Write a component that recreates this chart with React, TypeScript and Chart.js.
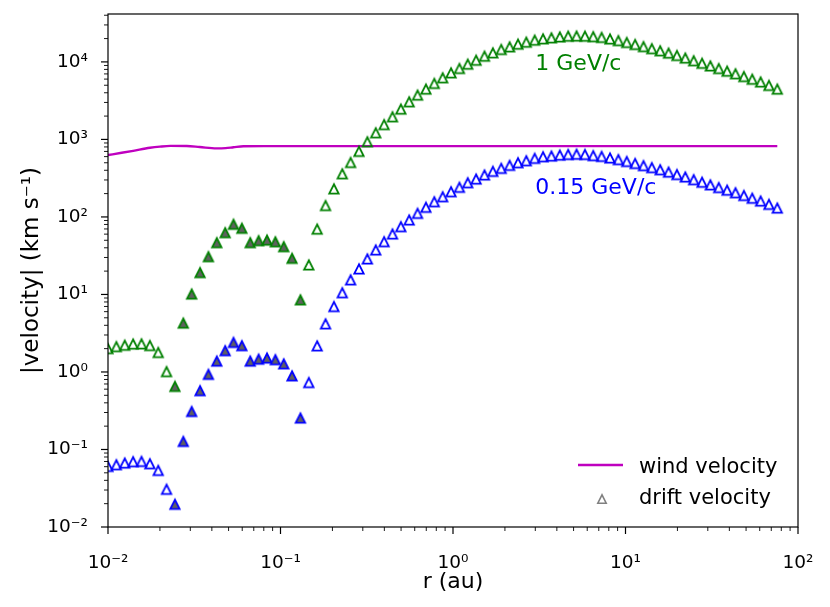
import React, { useEffect, useRef } from 'react';
import { Chart, registerables } from 'chart.js';

Chart.register(...registerables);

// ---------- data ----------
// radial grid (au)
const radius = [
  0.01, 0.01118, 0.012503, 0.013978, 0.015631, 0.017478, 0.019543, 0.021852, 0.024434, 0.027321,
  0.030549, 0.034158, 0.038194, 0.042707, 0.047753, 0.053395, 0.059704, 0.066758, 0.074645, 0.083465,
  0.093325, 0.10435, 0.11668, 0.13047, 0.14588, 0.16312, 0.18239, 0.20393, 0.22803, 0.25497,
  0.2851, 0.31878, 0.35645, 0.39856, 0.44566, 0.49831, 0.55719, 0.62303, 0.69663, 0.77893,
  0.87096, 0.97387, 1.0889, 1.2176, 1.3614, 1.5223, 1.7022, 1.9033, 2.1281, 2.3796,
  2.6607, 2.9751, 3.3266, 3.7196, 4.1591, 4.6504, 5.2, 5.8143, 6.5013, 7.2694,
  8.1283, 9.0886, 10.162, 11.363, 12.706, 14.207, 15.885, 17.762, 19.861, 22.207,
  24.831, 27.765, 31.046, 34.713, 38.815, 43.401, 48.529, 54.262, 60.674, 67.843,
  75.858,
];

// drift velocity (km/s), negative = inward (filled markers)
const drift1GeV = [
  2.0, 2.12, 2.21, 2.29, 2.3, 2.19, 1.78, 1.01, -0.65, -4.26,
  -10.1, -19.1, -30.7, -46.5, -62.6, -80.3, -71.3, -46.5, -49.3, -50.2,
  -47.7, -41.3, -29.2, -8.5, 24.0, 69.5, 140, 230, 360, 503,
  700, 931, 1216, 1550, 1955, 2456, 3052, 3724, 4449, 5270,
  6225, 7216, 8220, 9340, 10500, 11840, 13060, 14450, 15610, 16900,
  17940, 19040, 19790, 20390, 20990, 21430, 21530, 21430, 21130, 20650,
  19720, 18790, 17780, 16750, 15740, 14790, 13900, 12970, 12080, 11190,
  10350, 9590, 8870, 8200, 7590, 7020, 6470, 5970, 5500, 4970,
  4450,
];

const drift015GeV = [
  0.0604, 0.0635, 0.0668, 0.0695, 0.07, 0.0654, 0.0536, 0.0306, -0.0196, -0.127,
  -0.309, -0.573, -0.93, -1.38, -1.88, -2.4, -2.18, -1.38, -1.46, -1.51,
  -1.44, -1.27, -0.89, -0.254, 0.73, 2.17, 4.17, 6.97, 10.5, 15.4,
  21.3, 28.7, 37.4, 47.9, 60.2, 74.8, 91.2, 111, 133, 157,
  182, 211, 241, 276, 308, 347, 387, 423, 462, 500,
  530, 569, 597, 610, 627, 638, 643, 638, 617, 603,
  575, 548, 519, 489, 459, 432, 406, 378, 352, 327,
  302, 280, 259, 239, 221, 205, 189, 174, 160, 145,
  130,
];

// wind velocity (km/s)
const windR = [0.01, 0.012, 0.014, 0.0175, 0.02, 0.023, 0.0286, 0.034, 0.0426, 0.048, 0.0533, 0.061, 0.08, 0.2, 1, 10, 75.858];
const windV = [628, 672, 713, 780, 808, 826, 822, 798, 766, 772, 792, 818, 820, 820, 820, 820, 820];

const xTickPowers = [-2, -1, 0, 1, 2];
const yTickPowers = [-2, -1, 0, 1, 2, 3, 4];
const xRange = [0.01, 100];
const yRange = [0.01, 41500];

const labels1GeV = { text: '1 GeV/c', r: 3, v: 1e4 };
const labels015GeV = { text: '0.15 GeV/c', r: 3, v: 250 };
const legendLabels = ['wind velocity', 'drift velocity'];

// ---------- styles ----------
const FONT = '"DejaVu Sans", "Liberation Sans", sans-serif';
const GREEN = '#008000';
const BLUE = '#0000ff';
const MAGENTA = '#bf00bf';
const FILL_GRAY = '#606060';

const SUP: Record<string, string> = {
  '-': '\u207B', '0': '\u2070', '1': '\u00B9', '2': '\u00B2', '3': '\u00B3',
  '4': '\u2074', '5': '\u2075', '6': '\u2076', '7': '\u2077', '8': '\u2078', '9': '\u2079',
};
const pow10Label = (p: number) => '10' + String(p).split('').map((c) => SUP[c]).join('');

const tickCallback = (powers: number[]) => (value: any) => {
  const l = Math.log10(Number(value));
  const p = Math.round(l);
  return Math.abs(l - p) < 1e-6 && powers.includes(p) ? pow10Label(p) : '';
};

function makeTri(stroke: string, fill: string | null, half = 4.7, lw = 1.8) {
  const c = document.createElement('canvas');
  c.width = 18;
  c.height = 18;
  const g = c.getContext('2d')!;
  g.beginPath();
  g.moveTo(9, 9 - half);
  g.lineTo(9 - half, 9 + half);
  g.lineTo(9 + half, 9 + half);
  g.closePath();
  if (fill) {
    g.fillStyle = fill;
    g.fill();
  }
  g.lineJoin = 'miter';
  g.lineWidth = lw;
  g.strokeStyle = stroke;
  g.stroke();
  return c;
}

export default function App() {
  const ref = useRef<HTMLCanvasElement | null>(null);

  useEffect(() => {
    document.body.style.margin = '0';
    const canvas = ref.current!;
    const gOpen = makeTri(GREEN, null);
    const gFill = makeTri(GREEN, FILL_GRAY);
    const bOpen = makeTri(BLUE, null);
    const bFill = makeTri(BLUE, FILL_GRAY);
    const grayTri = makeTri('#808080', null, 4.2, 1.6);

    const decor = {
      id: 'decor',
      afterDatasetsDraw(chart: any) {
        const { ctx, chartArea: ca, scales } = chart;
        const xs = scales.x;
        const ys = scales.y;
        ctx.save();
        ctx.strokeStyle = '#000';
        // x ticks
        for (let n = -2; n <= 2; n++) {
          for (let k = 1; k <= 9; k++) {
            const v = k * Math.pow(10, n);
            if (v > xRange[1] * 1.0001) break;
            const px = xs.getPixelForValue(v);
            const major = k === 1;
            ctx.lineWidth = major ? 1.2 : 0.9;
            ctx.beginPath();
            ctx.moveTo(px, ca.bottom);
            ctx.lineTo(px, ca.bottom + (major ? 7 : 4));
            ctx.stroke();
          }
        }
        // y ticks
        for (let n = -2; n <= 4; n++) {
          for (let k = 1; k <= 9; k++) {
            const v = k * Math.pow(10, n);
            if (v > yRange[1]) break;
            const py = ys.getPixelForValue(v);
            const major = k === 1;
            ctx.lineWidth = major ? 1.2 : 0.9;
            ctx.beginPath();
            ctx.moveTo(ca.left, py);
            ctx.lineTo(ca.left - (major ? 7 : 4), py);
            ctx.stroke();
          }
        }
        ctx.lineWidth = 1.2;
        ctx.strokeRect(ca.left, ca.top, ca.right - ca.left, ca.bottom - ca.top);
        ctx.restore();
      },
      afterDraw(chart: any) {
        const { ctx, chartArea: ca, scales } = chart;
        const xs = scales.x;
        const ys = scales.y;
        ctx.save();
        ctx.font = `22px ${FONT}`;
        ctx.textAlign = 'left';
        ctx.textBaseline = 'alphabetic';
        ctx.fillStyle = GREEN;
        ctx.fillText(labels1GeV.text, xs.getPixelForValue(labels1GeV.r), ys.getPixelForValue(labels1GeV.v) + 8);
        ctx.fillStyle = BLUE;
        ctx.fillText(labels015GeV.text, xs.getPixelForValue(labels015GeV.r), ys.getPixelForValue(labels015GeV.v) + 8);

        // legend
        ctx.font = `21px ${FONT}`;
        ctx.fillStyle = '#000';
        ctx.strokeStyle = MAGENTA;
        ctx.lineWidth = 2.4;
        ctx.beginPath();
        ctx.moveTo(ca.right - 220, ca.bottom - 62);
        ctx.lineTo(ca.right - 175, ca.bottom - 62);
        ctx.stroke();
        ctx.fillText(legendLabels[0], ca.right - 159, ca.bottom - 54);
        ctx.drawImage(grayTri, ca.right - 196 - 9, ca.bottom - 28 - 9);
        ctx.fillText(legendLabels[1], ca.right - 159, ca.bottom - 23);
        ctx.restore();
      },
    };

    const chart = new Chart(canvas, {
      type: 'scatter',
      data: {
        datasets: [
          {
            label: '1 GeV/c',
            data: radius.map((r, i) => ({ x: r, y: Math.abs(drift1GeV[i]) })),
            pointStyle: (c: any) => (drift1GeV[c.dataIndex] < 0 ? gFill : gOpen),
            pointRadius: 6,
            clip: 0,
          } as any,
          {
            label: '0.15 GeV/c',
            data: radius.map((r, i) => ({ x: r, y: Math.abs(drift015GeV[i]) })),
            pointStyle: (c: any) => (drift015GeV[c.dataIndex] < 0 ? bFill : bOpen),
            pointRadius: 6,
            clip: 0,
          } as any,
          {
            label: 'wind velocity',
            data: windR.map((r, i) => ({ x: r, y: windV[i] })),
            showLine: true,
            borderColor: MAGENTA,
            borderWidth: 2.4,
            pointRadius: 0,
            cubicInterpolationMode: 'monotone',
            clip: 0,
          } as any,
        ],
      },
      options: {
        animation: false,
        responsive: false,
        events: [],
        layout: { padding: { top: 14, right: 32, left: 0, bottom: 0 } },
        plugins: { legend: { display: false }, tooltip: { enabled: false } },
        scales: {
          x: {
            type: 'logarithmic',
            min: xRange[0],
            max: xRange[1],
            grid: { display: false },
            border: { display: false },
            ticks: {
              autoSkip: false,
              maxRotation: 0,
              minRotation: 0,
              padding: 17,
              color: '#000',
              font: { family: FONT, size: 18.5 },
              callback: tickCallback(xTickPowers),
            },
            title: {
              display: true,
              text: 'r (au)',
              color: '#000',
              font: { family: FONT, size: 22 },
              padding: { top: 0, bottom: 12 },
            },
            afterFit: (s: any) => {
              s.height = 80;
              s.paddingLeft = 0;
              s.paddingRight = 0;
            },
          },
          y: {
            type: 'logarithmic',
            min: yRange[0],
            max: yRange[1],
            grid: { display: false },
            border: { display: false },
            ticks: {
              autoSkip: false,
              padding: 12,
              color: '#000',
              font: { family: FONT, size: 18.5 },
              callback: tickCallback(yTickPowers),
            },
            title: {
              display: true,
              text: '|velocity| (km s\u207B\u00B9)',
              color: '#000',
              font: { family: FONT, size: 23 },
              padding: { top: 18, bottom: 0 },
            },
            afterFit: (s: any) => {
              s.width = 108;
              s.paddingTop = 0;
              s.paddingBottom = 0;
            },
          },
        },
      } as any,
      plugins: [decor],
    });
    return () => chart.destroy();
  }, []);

  return (
    <div style={{ width: 830, height: 607 }}>
      <canvas ref={ref} width={830} height={607} style={{ display: 'block', width: 830, height: 607 }} />
    </div>
  );
}
